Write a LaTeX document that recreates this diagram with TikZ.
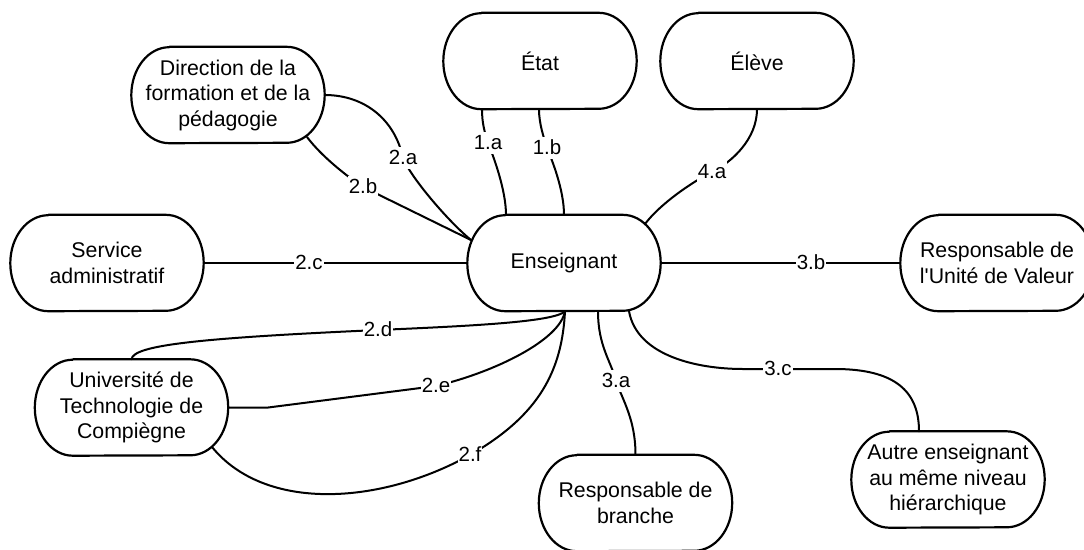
\documentclass[tikz,border=0pt]{standalone}
\usepackage{fontspec}
\setmainfont{Liberation Sans}[Ligatures=TeXOff]
\usetikzlibrary{calc}
\tikzset{
  box/.style={draw=none, minimum width=193pt, minimum height=96pt, inner sep=0pt, align=center, font=\fontsize{21.3}{25.5}\selectfont},
  border/.style={line width=2.2pt, line join=round},
  conn/.style={line width=2pt, line cap=round},
  lab/.style={fill=white, inner xsep=1pt, inner ysep=0pt, text height=17.5pt, text depth=5pt, font=\fontsize{20.5}{23}\selectfont},
}
\begin{document}
\begin{tikzpicture}[x=1pt, y=1pt]
\useasboundingbox (0,0) rectangle (1084,-549);
% nodes
\node[box] (dir) at (228,-95) {Direction de la\\formation et de la\\pédagogie};
\node[box] (etat) at (540,-61) {État};
\node[box] (eleve) at (757,-61) {Élève};
\node[box] (ens) at (564,-263) {Enseignant};
\node[box] (serv) at (107,-263) {Service\\administratif};
\node[box] (ruv) at (997,-263) {Responsable de\\l'Unité de Valeur};
\node[box] (univ) at (131.5,-407.5) {Université de\\Technologie de\\Compiègne};
\node[box] (branch) at (635.5,-503) {Responsable de\\branche};
\node[box] (autre) at (948,-479.5) {Autre enseignant\\au même niveau\\hiérarchique};
% borders
\foreach \n in {dir,etat,eleve,ens,serv,ruv,univ,branch,autre}{
  \draw[border] ($(\n.north west)+(38,0)$) -- ($(\n.north east)+(-38,0)$)
    arc[start angle=90, end angle=-90, x radius=38, y radius=48]
    -- ($(\n.south west)+(38,0)$)
    arc[start angle=270, end angle=90, x radius=38, y radius=48] -- cycle;
}
% connectors
\draw[conn] ($(etat.south)+(-58,0)$) .. controls +(0,-15) and +(-3,10) .. (488,-143) node[lab] (l1a) {1.a}
  .. controls +(5,-12) and +(0,25) .. ($(ens.north)+(-58,0)$);
\draw[conn] ($(etat.south)+(-1,0)$) .. controls +(0,-15) and +(-3,10) .. (547,-148) node[lab] (l1b) {1.b}
  .. controls +(5,-12) and +(0,25) .. (ens.north);
\draw[conn] (dir.east) .. controls (365,-95) and (395,-120) .. (403,-158) node[lab] (l2a) {2.a}
  .. controls (411,-178) and (449,-222) .. ($(ens.center)+(-93,23)$);
\draw[conn] ($(dir.center)+(79,-42)$) .. controls +(15,-20) and +(-15,10) .. (363,-187) node[lab] (l2b) {2.b}
  -- ($(ens.center)+(-93,23)$);
\draw[conn] (serv.east) -- (309,-263) node[lab] (l2c) {2.c} -- (ens.west);
\draw[conn] (univ.north) .. controls (133,-345) and (200,-338) .. (378,-330) node[lab] (l2d) {2.d}
  .. controls (470,-326) and (555,-322) .. ($(ens.south)+(1,0)$);
\draw[conn] (univ.east) -- ++(40,0) -- (436,-386) node[lab] (l2e) {2.e}
  .. controls (495,-372) and (560,-340) .. ($(ens.south)+(1,0)$);
\draw[conn] ($(univ.center)+(80.5,-39.5)$) .. controls (265,-512) and (380,-505) .. (470,-455) node[lab] (l2f) {2.f}
  .. controls (540,-415) and (562,-370) .. ($(ens.south)+(1,0)$);
\draw[conn] ($(ens.south)+(34,0)$) .. controls +(0,-35) and +(-5,20) .. (616,-381) node[lab] (l3a) {3.a}
  .. controls +(7,-20) and +(0,35) .. (branch.north);
\draw[conn] (ens.east) -- (811,-263) node[lab] (l3b) {3.b} -- (ruv.west);
\draw[conn] ($(ens.south)+(65,0)$) .. controls +(8,-45) and +(-45,0) .. (743,-369) -- (778,-369) node[lab] (l3c) {3.c}
  -- (835,-369) .. controls +(60,0) and +(0,40) .. ($(autre.north)+(-29,0)$);
\draw[conn] ($(ens.center)+(81,39)$) .. controls (660,-204) and (692,-182) .. (712,-172) node[lab] (l4a) {4.a}
  .. controls (732,-162) and (757,-139) .. (eleve.south);
\end{tikzpicture}
\end{document}
